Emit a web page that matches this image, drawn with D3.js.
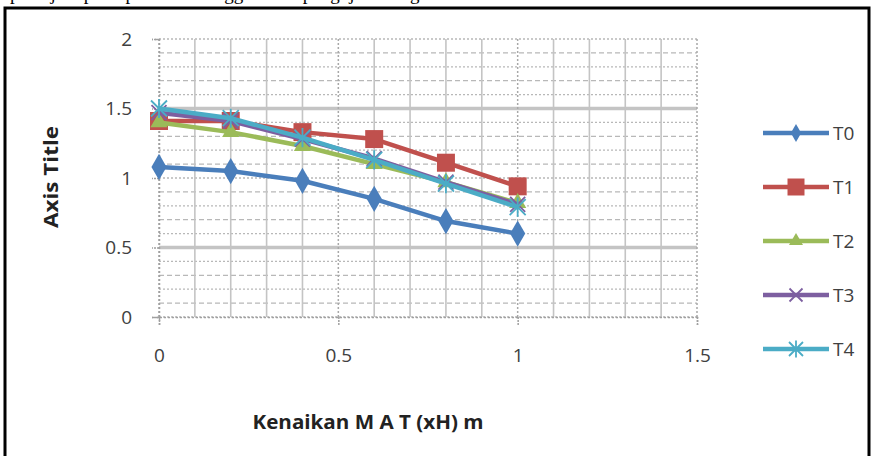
<!DOCTYPE html>
<html>
<head>
<meta charset="utf-8">
<script src="https://cdn.jsdelivr.net/npm/d3@7"></script>
<style>
  html, body { margin: 0; padding: 0; background: #fff; }
  svg { display: block; }
</style>
</head>
<body>
<svg id="chart" width="872" height="456"></svg>
<script>
// data
const xValues = [0, 0.2, 0.4, 0.6, 0.8, 1];
const seriesNames = ['T0', 'T1', 'T2', 'T3', 'T4'];
const t0 = [1.08, 1.05, 0.98, 0.85, 0.69, 0.60];
const t1 = [1.41, 1.41, 1.33, 1.28, 1.11, 0.94];
const t2 = [1.40, 1.33, 1.23, 1.10, 0.97, 0.82];
const t3 = [1.47, 1.41, 1.28, 1.14, 0.97, 0.81];
const t4 = [1.50, 1.43, 1.29, 1.13, 0.96, 0.79];
const yTicks = [0, 0.5, 1, 1.5, 2];
const xTicks = [0, 0.5, 1, 1.5];
const xTitle = 'Kenaikan M A T  (xH) m';
const yTitle = 'Axis Title';

const seriesValues = [t0, t1, t2, t3, t4];
const colors = ['#4a7ebb', '#c0504d', '#9bbb59', '#7d5fa0', '#4bacc6'];
const markers = ['diamond', 'square', 'triangle', 'x', 'star'];

const svg = d3.select('#chart');
const margin = { top: 39, left: 159, right: 697, bottom: 317 };

const x = d3.scaleLinear().domain([0, 1.5]).range([margin.left, margin.right]);
const y = d3.scaleLinear().domain([0, 2]).range([margin.bottom, margin.top]);

// clipped text line above the frame (only its lower edge shows)
svg.append('text')
  .attr('x', 10).attr('y', 0)
  .attr('font-family', 'Liberation Serif, serif')
  .attr('font-size', 19)
  .attr('fill', '#000')
  .text('pada jam pasir pertama menggunakan pengujian dengan');

// frame
svg.append('path')
  .attr('d', 'M5,460 V8 H869 V460')
  .attr('fill', 'none')
  .attr('stroke', '#000')
  .attr('stroke-width', 3);

// grid
const grid = svg.append('g');
const minorY = d3.range(0, 2.0001, 0.1).map(v => +v.toFixed(1));
minorY.forEach((v, i) => {
  const major = Math.abs(v - 0.5) < 1e-6 || Math.abs(v - 1.5) < 1e-6;
  grid.append('line')
    .attr('x1', x(0)).attr('x2', x(1.5))
    .attr('y1', y(v)).attr('y2', y(v))
    .attr('stroke', major ? '#c4c4c4' : '#b8b8b8')
    .attr('stroke-width', major ? 3.5 : 1.3)
    .attr('stroke-dasharray', major ? null : (i % 2 ? '5,3' : '2,2'));
});
const minorX = d3.range(0, 1.5001, 0.1).map(v => +v.toFixed(1));
minorX.forEach(v => {
  const major = Math.abs(v * 2 - Math.round(v * 2)) < 1e-6;
  grid.append('line')
    .attr('x1', x(v)).attr('x2', x(v))
    .attr('y1', y(2)).attr('y2', y(0))
    .attr('stroke', major ? '#a8a8a8' : '#c4c4c4')
    .attr('stroke-width', major ? 1.5 : 1.6)
    .attr('stroke-dasharray', major ? '2,2' : null);
});

// axes
const yAxis = svg.append('g')
  .attr('transform', `translate(${x(0)},0)`)
  .call(d3.axisLeft(y).tickValues(yTicks).tickFormat(d3.format('')).tickSize(7).tickPadding(20));
const xAxis = svg.append('g')
  .attr('transform', `translate(0,${y(0)})`)
  .call(d3.axisBottom(x).tickValues(xTicks).tickFormat(d3.format('')).tickSize(8).tickPadding(24));
[yAxis, xAxis].forEach(a => {
  a.select('.domain').attr('stroke', '#a0a0a0').attr('stroke-width', 1.5).attr('stroke-dasharray', '2,2');
  a.selectAll('.tick line').attr('stroke', '#a0a0a0').attr('stroke-width', 1.5).attr('stroke-dasharray', '2,1');
  a.selectAll('.tick text')
    .attr('font-family', 'Open Sans, sans-serif')
    .attr('font-size', 19)
    .attr('fill', '#404040');
});

// axis titles
svg.append('text')
  .attr('x', 368).attr('y', 429)
  .attr('text-anchor', 'middle')
  .attr('font-family', 'Open Sans, sans-serif')
  .attr('font-weight', 'bold')
  .attr('font-size', 19)
  .attr('textLength', 231)
  .attr('lengthAdjust', 'spacingAndGlyphs')
  .attr('fill', '#222')
  .text(xTitle);
svg.append('text')
  .attr('transform', 'translate(58,177) rotate(-90)')
  .attr('text-anchor', 'middle')
  .attr('font-family', 'Open Sans, sans-serif')
  .attr('font-weight', 'bold')
  .attr('font-size', 19)
  .attr('textLength', 102)
  .attr('lengthAdjust', 'spacingAndGlyphs')
  .attr('fill', '#222')
  .text(yTitle);

// marker drawing
function drawMarker(g, type, color, s) {
  if (type === 'diamond') {
    g.append('path').attr('d', d3.symbol(d3.symbolDiamond, s * s * 0.55)()).attr('fill', color);
  } else if (type === 'square') {
    g.append('path').attr('d', d3.symbol(d3.symbolSquare, s * s)()).attr('fill', color);
  } else if (type === 'triangle') {
    g.append('path').attr('d', d3.symbol(d3.symbolTriangle, s * s * 0.5)()).attr('fill', color);
  } else {
    const r = s / 2;
    const p = d3.path();
    p.moveTo(-r, -r); p.lineTo(r, r);
    p.moveTo(-r, r); p.lineTo(r, -r);
    if (type === 'star') { p.moveTo(0, -r * 1.2); p.lineTo(0, r * 1.2); }
    g.append('path').attr('d', p.toString()).attr('stroke', color).attr('stroke-width', 1.8).attr('fill', 'none');
  }
}

const line = d3.line().x(d => x(d[0])).y(d => y(d[1]));
const plot = svg.append('g');
const markerSizes = [19, 18, 16, 15, 16];
seriesValues.forEach((vals, si) => {
  const pts = xValues.map((xv, i) => [xv, vals[i]]);
  const sg = plot.append('g');
  sg.append('path')
    .attr('d', line(pts))
    .attr('fill', 'none')
    .attr('stroke', colors[si])
    .attr('stroke-width', 4.5)
    .attr('stroke-linejoin', 'round');
  pts.forEach(p => {
    const mg = sg.append('g').attr('transform', `translate(${x(p[0])},${y(p[1])})`);
    drawMarker(mg, markers[si], colors[si], markerSizes[si]);
  });
});

// legend
const legend = svg.append('g');
const legendY = d3.scalePoint().domain(seriesNames).range([133, 349]);
const legendSizes = [13, 17, 13, 13, 14];
seriesNames.forEach((name, si) => {
  const ly = legendY(name);
  const lg = legend.append('g');
  lg.append('line')
    .attr('x1', 763).attr('x2', 829)
    .attr('y1', ly).attr('y2', ly)
    .attr('stroke', colors[si])
    .attr('stroke-width', 4.5);
  const mg = lg.append('g').attr('transform', `translate(796,${ly})`);
  drawMarker(mg, markers[si], colors[si], legendSizes[si]);
  lg.append('text')
    .attr('x', 833).attr('y', ly + 7)
    .attr('font-family', 'Open Sans, sans-serif')
    .attr('font-size', 19)
    .attr('fill', '#404040')
    .text(name);
});
</script>
</body>
</html>
